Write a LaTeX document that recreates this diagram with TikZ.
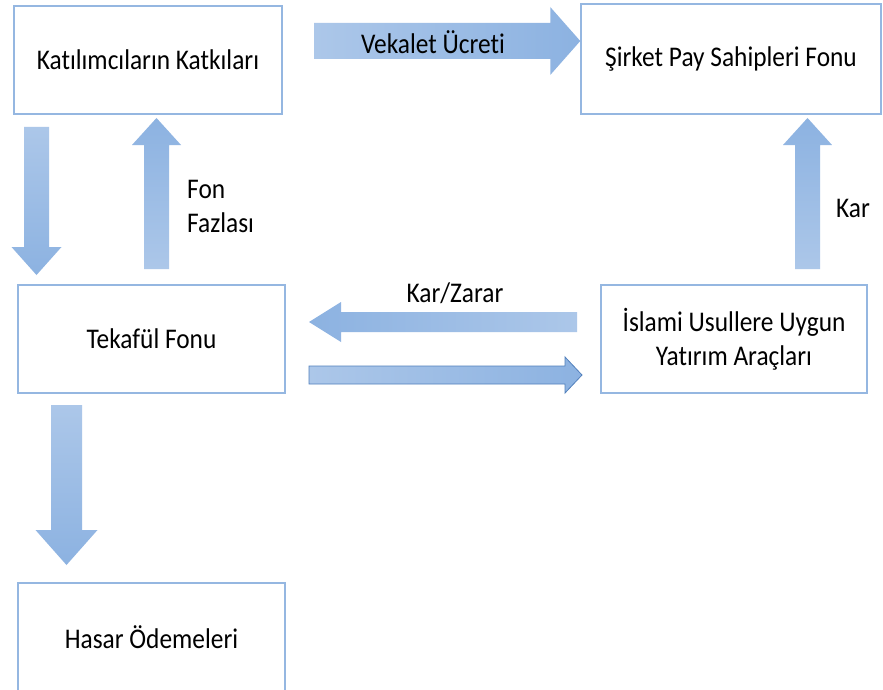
\documentclass[tikz,border=0pt]{standalone}
\usepackage{fontspec}
\setmainfont{Carlito}[FakeStretch=0.89, Ligatures=NoCommon]
\usetikzlibrary{calc}
\definecolor{boxblue}{RGB}{149,183,225}
\definecolor{arrlight}{RGB}{172,199,233}
\definecolor{arrdark}{RGB}{140,178,225}
\definecolor{arredge}{RGB}{82,128,188}
\tikzset{
    mybox/.style = {rectangle, draw=boxblue, line width=1.5pt, minimum width=267pt, minimum height=108pt, align=center, inner sep=0pt},
    flowtext/.style = {inner sep=0pt, align=left},
    fat/.style n args = {3}{to path={
        let \p1=(\tikztostart), \p2=(\tikztotarget), \p3=($(\p2)!#3!(\p1)$) in
        ($(\p1)!#1!90:(\p2)$) -- ($(\p3)!#1!90:(\p2)$) -- ($(\p3)!#2!90:(\p2)$) -- (\p2)
        -- ($(\p3)!#2!-90:(\p2)$) -- ($(\p3)!#1!-90:(\p2)$) -- ($(\p1)!#1!-90:(\p2)$) -- cycle}},
    flowr/.style = {left color=arrlight, right color=arrdark},   % tip right
    flowl/.style = {left color=arrdark, right color=arrlight},   % tip left
    flowu/.style = {top color=arrdark, bottom color=arrlight},   % tip up
    flowd/.style = {top color=arrlight, bottom color=arrdark}    % tip down
}

\begin{document}
\begin{tikzpicture}[x=1pt, y=-1pt, font=\fontsize{28.5}{34}\selectfont]
  \fill[white] (0,0) rectangle (883,690);
  \useasboundingbox (0,0) rectangle (883,690);

  % boxes
  \node[mybox, minimum width=268pt] (katki) at (148,60) {Katılımcıların Katkıları};
  \node[mybox, minimum width=300pt, minimum height=110pt] (sirket) at (731,59) {Şirket Pay Sahipleri Fonu};
  \node[mybox] (tekaful) at (151.5,339) {Tekafül Fonu};
  \node[mybox, minimum width=266pt] (yatirim) at (734,339) {İslami Usullere Uygun\\Yatırım Araçları};
  \node[mybox] (hasar) at (151.5,637) {Hasar Ödemeleri};

  % arrow ends
  \coordinate (vk) at (314,41);
  \coordinate (pay1) at (36.5,127);
  \coordinate (pay2) at (36.5,275);
  \coordinate (fon1) at (156.5,269);
  \coordinate (fon2) at (156.5,118);
  \coordinate (kar1) at (807.5,269);
  \coordinate (kar2) at (807.5,118);
  \coordinate (kz1) at (577,322);
  \coordinate (kz2) at (309,322);
  \coordinate (yt1) at (309,375);
  \coordinate (yt2) at (582,375);
  \coordinate (hs1) at (66.5,405);
  \coordinate (hs2) at (66.5,565);

  % arrows
  \shade[flowr] (vk) to[fat={18pt}{34pt}{30pt}] (sirket.west |- vk);
  \shade[flowd] (pay1) to[fat={12.5pt}{25pt}{28pt}] (pay2);
  \shade[flowu] (fon1) to[fat={12.5pt}{24.5pt}{27pt}] (fon2);
  \shade[flowu] (kar1) to[fat={12.5pt}{24.5pt}{27pt}] (kar2);
  \shade[flowl] (kz1) to[fat={10pt}{20pt}{32pt}] (kz2);
  \shadedraw[flowr, draw=arredge, line width=0.8pt] (yt1) to[fat={9pt}{18pt}{17pt}] (yt2);
  \shade[flowd] (hs1) to[fat={15.5pt}{31pt}{35pt}] (hs2);

  % labels
  \node[flowtext] (vklabel) at (433,42) {Vekalet Ücreti};
  \node[flowtext, anchor=west] (fonlabel) at (187,206) {Fon\\Fazlası};
  \node[flowtext] (karlabel) at (853,208) {Kar};
  \node[flowtext] (kzlabel) at (455,293) {Kar/Zarar};
\end{tikzpicture}
\end{document}
